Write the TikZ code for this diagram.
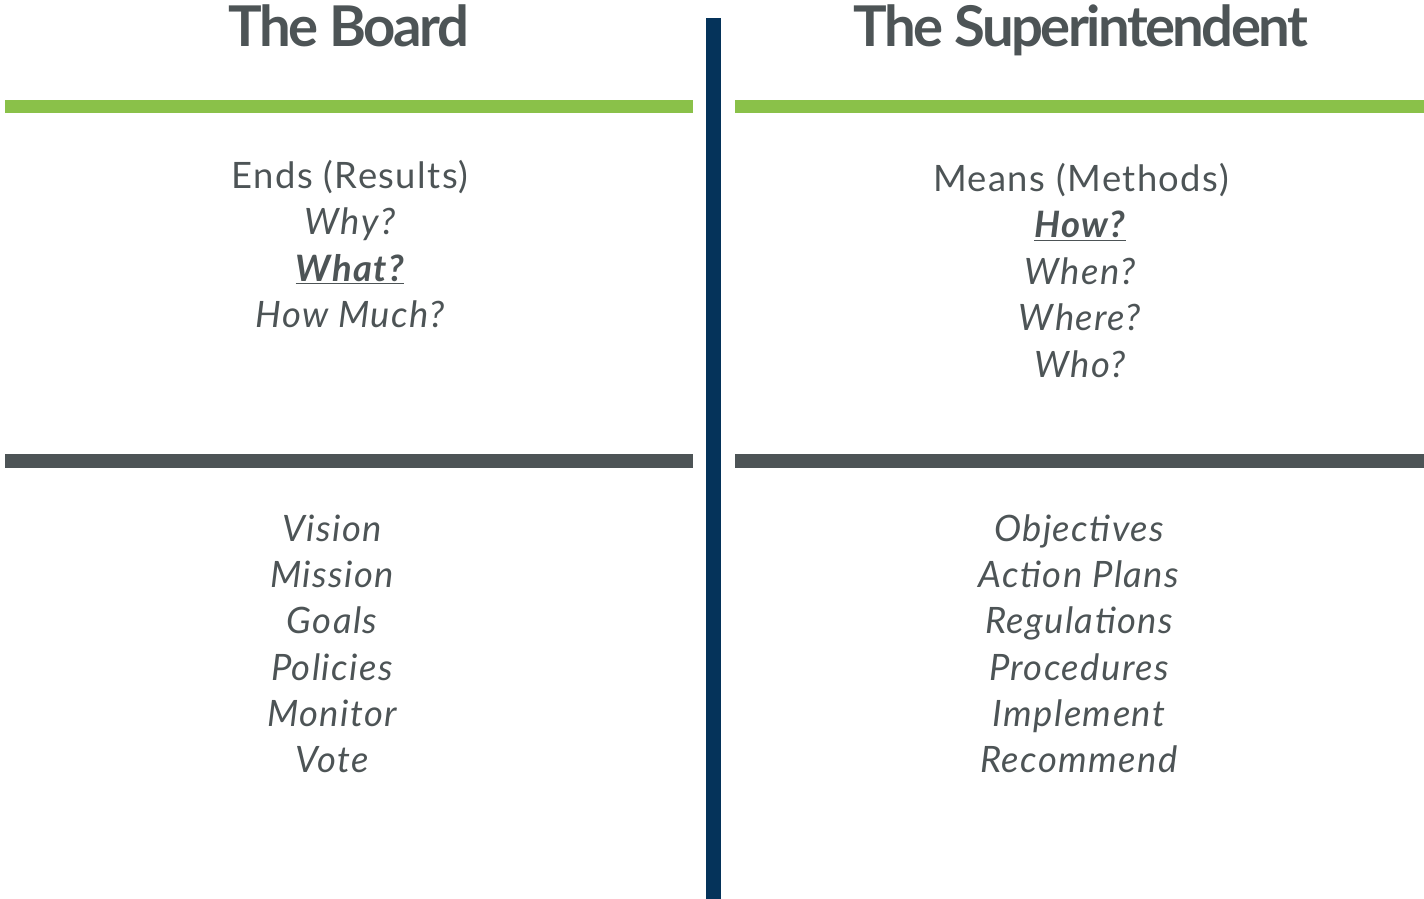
\documentclass[tikz,border=0pt]{standalone}
\usepackage{fontspec}
\setmainfont{Lato}
\newfontfamily\headfont[LetterSpace=-4.6]{Lato}
\newfontfamily\bodyfont[LetterSpace=4]{Lato}

\definecolor{textgray}{HTML}{4D5456}
\definecolor{rulegreen}{HTML}{8AC149}
\definecolor{rulenavy}{HTML}{05335A}

\tikzset{
	heading/.style={anchor=base, inner sep=0pt, text=textgray, font=\headfont\fontsize{32}{38}\selectfont\bfseries},
	item/.style={anchor=base, inner sep=0pt, text=textgray, font=\bodyfont\fontsize{20.7}{25}\selectfont\itshape},
	plain/.style={item, font=\bodyfont\fontsize{20.7}{25}\selectfont\upshape},
}

\begin{document}
\begin{tikzpicture}[x=0.02cm, y=-0.02cm]
	\useasboundingbox (0,0) rectangle (1424,899);

	% rules
	\fill[rulegreen] (5,100) rectangle (693,113);
	\fill[rulegreen] (735,100) rectangle (1424,113);
	\fill[textgray] (5,454) rectangle (693,468);
	\fill[textgray] (735,454) rectangle (1424,468);
	\fill[rulenavy] (706,18) rectangle (721,899);

	% headings
	\node[heading] (board) at (349,47) {The Board};
	\node[heading] (super) at (1081,47) {The Superintendent};

	% ends
	\node[plain] (ends) at (350,188) {Ends (Results)};
	\node[item] (why) at (350,234.5) {Why?};
	\node[item] (what) at (350,281) {\underline{\bfseries What?}};
	\node[item] (howmuch) at (350,327.5) {How Much?};

	% means
	\node[plain] (means) at (1081,191) {Means (Methods)};
	\node[item] (how) at (1080,237.5) {\underline{\bfseries How?}};
	\node[item] (when) at (1080,284) {When?};
	\node[item] (where) at (1080,330.5) {Where?};
	\node[item] (who) at (1080,377) {Who?};

	% board duties
	\foreach \txt [count=\i from 0] in {Vision,Mission,Goals,Policies,Monitor,Vote}
		\node[item] (board\i) at (332,541.5+46.2*\i) {\txt};

	% superintendent duties
	\foreach \txt [count=\i from 0] in {Objectives,Action Plans,Regulations,Procedures,Implement,Recommend}
		\node[item] (super\i) at (1079,541.5+46.2*\i) {\txt};
\end{tikzpicture}
\end{document}
